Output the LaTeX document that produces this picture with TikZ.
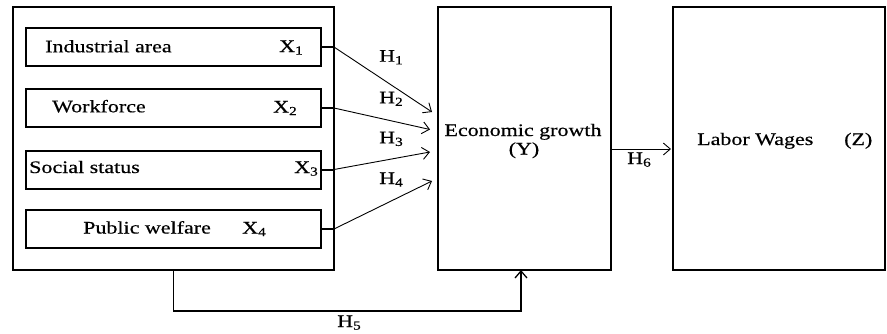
\documentclass[tikz,border=0pt]{standalone}
\usepackage{fontspec}
\setmainfont[FakeStretch=1.25,FakeBold=0.5]{Liberation Serif}
\usetikzlibrary{arrows.meta}
\begin{document}
\begin{tikzpicture}[x=1pt,y=-1pt,
  outer/.style={draw, line width=2.6pt, outer sep=0pt, inner sep=0pt},
  inner/.style={draw, line width=2pt, outer sep=0pt, inner sep=0pt, minimum width=295pt, minimum height=38pt},
  bigbox/.style={draw, line width=1.8pt, outer sep=0pt, inner sep=0pt},
  stub/.style={line width=2pt},
  conn/.style={line width=0.9pt, -{Straight Barb[length=7pt,width=12pt]}},
  txt/.style={inner sep=0pt, font=\fontsize{17.6}{20}\selectfont},
]
\useasboundingbox (0,0) rectangle (887,333);
% outer group box
\node[outer, minimum width=321pt, minimum height=263pt] (G) at (173.5,138.5) {};
% inner boxes
\node[inner] (b1) at (173.5,47) {};
\node[inner] (b2) at (173.5,108) {};
\node[inner] (b3) at (173.5,169.5) {};
\node[inner] (b4) at (173.5,229) {};
% inner texts
\node[txt, anchor=base west] (t1) at (45,52.3) {Industrial area};
\node[txt, anchor=base west] (x1) at (279,52) {X\textsubscript{1}};
\node[txt, anchor=base west] (t2) at (52,112.3) {Workforce};
\node[txt, anchor=base west] (x2) at (273,112.5) {X\textsubscript{2}};
\node[txt, anchor=base west] (t3) at (29,173) {Social status};
\node[txt, anchor=base west] (x3) at (294,173) {X\textsubscript{3}};
\node[txt, anchor=base west] (t4) at (83,233.5) {Public welfare};
\node[txt, anchor=base west] (x4) at (242,233.5) {X\textsubscript{4}};
% Y box and Z box
\node[bigbox, minimum width=173pt, minimum height=263pt] (Y) at (524.5,138.5) {};
\node[bigbox, minimum width=212pt, minimum height=263pt] (Z) at (779,138.5) {};
\node[txt, anchor=base] (ty) at (523,136) {Economic growth};
\node[txt, anchor=base] (ty2) at (524,154.5) {(Y)};
\node[txt, anchor=base west] (tz) at (697,145) {Labor Wages};
\node[txt, anchor=base west] (tz2) at (844,145) {(Z)};
% arrow end points
\coordinate (e1) at (432,112);
\coordinate (e2) at (430,129.5);
\coordinate (e3) at (430,152);
\coordinate (e4) at (432,181);
% stubs and arrows
\draw[stub] (b1.east) -- (b1.east -| G.east);
\draw[stub] (b2.east) -- (b2.east -| G.east);
\draw[stub] (b3.east) -- (b3.east -| G.east);
\draw[stub] (b4.east) -- (b4.east -| G.east);
\draw[conn] (b1.east -| G.east) -- (e1);
\draw[conn] (b2.east -| G.east) -- (e2);
\draw[conn] (b3.east -| G.east) -- (e3);
\draw[conn] (b4.east -| G.east) -- (e4);
% H labels
\node[txt, anchor=base west] (h1) at (379,61.7) {H\textsubscript{1}};
\node[txt, anchor=base west] (h2) at (379,103.3) {H\textsubscript{2}};
\node[txt, anchor=base west] (h3) at (379,143.3) {H\textsubscript{3}};
\node[txt, anchor=base west] (h4) at (379,184) {H\textsubscript{4}};
% H6
\draw[conn] (Y.east |- 0,149) -- ([xshift=-2pt]Z.west |- 0,149);
\node[txt, anchor=base west] (h6) at (627,164) {H\textsubscript{6}};
% H5
\draw[conn, line width=1.3pt] (G.south) -- (173.5,311) -| ([xshift=-3.5pt]Y.south);
\node[txt, anchor=base west] (h5) at (337,327) {H\textsubscript{5}};
\end{tikzpicture}
\end{document}
